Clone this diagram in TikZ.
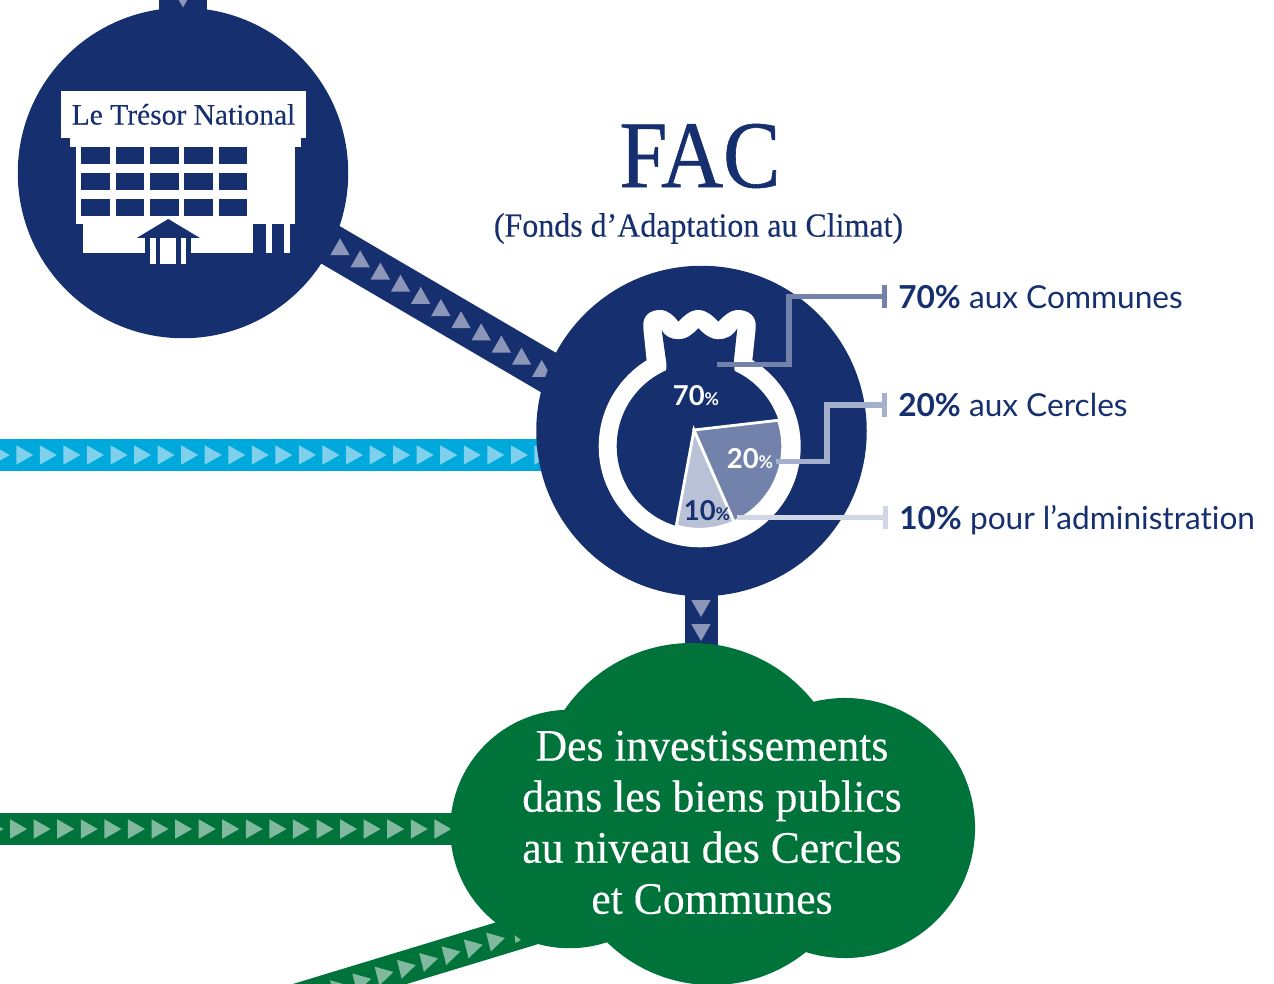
\documentclass[tikz,border=0pt]{standalone}
\usepackage{fontspec}
\setmainfont{Liberation Serif}
\setsansfont{Lato}[Ligatures=NoCommon]
\newfontfamily\cloudfont[FakeStretch=0.97,FakeBold=0.25]{Liberation Serif}
\newfontfamily\subtitlefont[FakeStretch=0.947,FakeBold=0.25]{Liberation Serif}
\newfontfamily\titlefont[FakeStretch=0.9,FakeBold=0.6]{Liberation Serif}
\newfontfamily\signfont[FakeBold=0.2]{Liberation Serif}
\usetikzlibrary{arrows.meta,backgrounds,calc}
\definecolor{navyblue}{HTML}{16306F}
\definecolor{navytri}{HTML}{8B96B8}
\definecolor{skyblue}{HTML}{00A9DC}
\definecolor{skytri}{HTML}{7FD0EC}
\definecolor{forest}{HTML}{00733A}
\definecolor{foresttri}{HTML}{80B99D}
\definecolor{slicemid}{HTML}{7282AA}
\definecolor{slicelight}{HTML}{B8C1D6}
\definecolor{leadmid}{HTML}{A3AFCB}
\definecolor{leadlight}{HTML}{D0D6E5}
\tikzset{
  bigcircle/.style={circle,fill=navyblue,inner sep=0pt,outer sep=0pt,minimum size=8.26cm},
  cloudlobe/.style={circle,fill=forest,inner sep=0pt,outer sep=0pt},
  band/.style={line width=#1,shorten >=-14pt,shorten <=-14pt},
  tri/.pic={\path[pic actions] (-8.5,-9.7) -- (8.5,0) -- (-8.5,9.7) -- cycle;},
  slice/.style={draw=white,line width=2pt,line join=miter},
  leader/.style={line width=3.6pt,shorten >=7.8pt,-{Bar[width=16.6pt,line width=3.7pt]}},
  sidetext/.style={anchor=west,inner sep=0pt,text=navyblue,text height=19.5pt,text depth=2.5pt,font=\sffamily\fontsize{22.5}{26}\selectfont},
  pcttext/.style={inner sep=0pt,font=\sffamily\bfseries\fontsize{19.5}{21}\selectfont},
  cloudtext/.style={align=center,text=white,inner sep=0pt,font=\cloudfont\fontsize{32}{36.3}\selectfont}
}
\newcommand{\smallpct}{{\fontsize{12.5}{13}\selectfont\%}}
\begin{document}
\begin{tikzpicture}[x=0.025cm,y=-0.025cm]
  \useasboundingbox (0,0) rectangle (1274,984);

  % big circles
  \node[bigcircle] (tresor) at (183,173) {};
  \node[bigcircle] (fac) at (701.5,431) {};

  % cloud
  \node[cloudlobe,minimum size=7.75cm] (cloudtop) at (692,798) {};
  \node[cloudlobe,minimum size=5.96cm] (cloudleft) at (569.5,829) {};
  \node[cloudlobe,minimum size=6.5cm] (cloudright) at (845,828) {};
  \node[cloudlobe,minimum size=7.5cm] (cloudbottom) at (712,835) {};
  \node[cloudtext] (cloudlabel) at (712,822.5) {Des investissements\\dans les biens publics\\au niveau des Cercles\\et Communes};

  % free ends
  \coordinate (topstart) at (183,-10);
  \coordinate (bluestart) at (-10,455);
  \coordinate (greenstart) at (-10,829);
  \coordinate (lowstart) at (270,1008.2);

  % bands and their triangles
  \begin{pgfonlayer}{background}
    \draw[navyblue,band=34.8pt] (topstart) -- (tresor);
    \draw[navyblue,band=29.6pt] (tresor.-26) -- (fac.159.6);
    \draw[navyblue,band=23.5pt] (fac) -- (fac |- cloudtop);
    \draw[skyblue,band=22.8pt] (bluestart) -- (bluestart -| fac);
    \draw[forest,band=22.8pt] (greenstart) -- (greenstart -| cloudleft);
    \draw[forest,band=23.5pt] (lowstart) -- (cloudleft.-118.5);

    \pic[fill=navytri,rotate=-90] at (183,-1) {tri};
    \foreach \i in {0,...,10}
      \pic[fill=navytri,rotate=90] at ({340+20.17*\i},{246.7+12.17*\i}) {tri};
    \pic[fill=navytri,rotate=-90] at (701,608.5) {tri};
    \pic[fill=navytri,rotate=-90] at (701,632.5) {tri};
    \foreach \i in {-1,...,22}
      \pic[fill=skytri] at ({24.8+23.55*\i},455) {tri};
    \foreach \i in {-1,...,18}
      \pic[fill=foresttri] at ({18.6+23.57*\i},829) {tri};
    \foreach \i in {0,...,7}
      \pic[fill=foresttri,rotate=14] at ({496.7-22.3*\i},{940+6.8*\i}) {tri};
    \fill[foresttri] (514.5,935) -- (521,940) -- (515.5,943) -- cycle;
  \end{pgfonlayer}

  % treasury building
  \node[fill=white,text=navyblue,inner sep=0pt,minimum width=6.125cm,minimum height=1.17cm,font=\signfont\fontsize{21}{24}\selectfont] (sign) at (183.5,114.4) {\raisebox{-1.3pt}{Le Trésor National}};
  \fill[white] (70.3,137) rectangle (300.7,146.7);
  \fill[white] (76,146) rectangle (295,224);
  \fill[white] (82.7,224) rectangle (253.3,252.7);
  \fill[white] (265.7,224) rectangle (271.7,252.7);
  \fill[white] (284.3,224) rectangle (290.3,252.7);
  \foreach \c in {0,...,4}
    \foreach \r in {0,...,2}
      \fill[navyblue] ({81.3+34.3*\c},{147+25.85*\r}) rectangle ++(28.7,17);
  \fill[navyblue] (136.7,238) -- (168.3,219) -- (200,238) -- cycle;
  \fill[navyblue] (145.3,238) rectangle (191.3,264);
  \fill[white] (150,238) rectangle (155.7,264);
  \fill[white] (160.3,238) rectangle (176,264);
  \fill[white] (180.7,238) rectangle (186.3,264);

  % money bag
  \coordinate (bagcentre) at (699.7,446.3);
  \fill[white] (bagcentre) circle (101);
  \fill[white] (647,364) -- (643.3,328) .. controls (642,314) and (652,310) .. (660,310)
    .. controls (668,310) and (674,316) .. (678.3,321.7)
    .. controls (684,316) and (690,310) .. (698.3,310)
    .. controls (706,310) and (713,316) .. (718.3,321.7)
    .. controls (724,316) and (730,310) .. (738.3,310)
    .. controls (748,310) and (757,316) .. (755.7,328) -- (751.7,366) -- cycle;
  \fill[navyblue] (bagcentre) circle (83);
  \fill[navyblue] (666,374) -- (666.5,364) -- (661.7,330) .. controls (665,337) and (672,339.3) .. (678.3,339.3)
    .. controls (687,339.3) and (693,334) .. (698.3,328.3)
    .. controls (704,334) and (710,339.3) .. (718.3,339.3)
    .. controls (726,339.3) and (733,336) .. (737.3,328.3) -- (733.7,362) -- (735,374) -- cycle;
  \draw[slice,fill=slicelight] (694,430) -- ($(bagcentre)+(65.5:83)$) arc (65.5:106.4:83) -- cycle;
  \draw[slice,fill=slicemid] (694,430) -- ($(bagcentre)+(-18.3:83)$) arc (-18.3:65.5:83) -- cycle;

  \node[pcttext,text=white] (pct70) at (696,396) {70\smallpct};
  \node[pcttext,text=white] (pct20) at (750,458.5) {20\smallpct};
  \node[pcttext,text=navyblue] (pct10) at (707,511) {10\smallpct};

  % titles
  \node[text=navyblue,inner sep=0pt,font=\titlefont\fontsize{68}{70}\selectfont] (title) at (700,156) {FAC};
  \node[text=navyblue,inner sep=0pt,font=\subtitlefont\fontsize{24}{28}\selectfont] (subtitle) at (698.5,228.5) {(Fonds d’Adaptation au Climat)};

  % side labels
  \node[sidetext] (lab70) at (898,296.5) {\textbf{70\%} aux Communes};
  \node[sidetext] (lab20) at (898,405) {\textbf{20\%} aux Cercles};
  \node[sidetext] (lab10) at (899,518) {\textbf{10\%} pour l’administration};

  \coordinate (start70) at (717.3,364.5);
  \coordinate (start20) at (776,461.7);
  \coordinate (start10) at (737.3,517.7);
  \coordinate (elbow70) at (789,296.5);
  \coordinate (elbow20) at (827,405);
  \draw[leader,slicemid] (start70) -| (elbow70) -- (lab70.west);
  \draw[leader,leadmid] (start20) -| (elbow20) -- (lab20.west);
  \draw[leader,leadlight] (start10) -- (start10 -| lab10.west);
\end{tikzpicture}
\end{document}
